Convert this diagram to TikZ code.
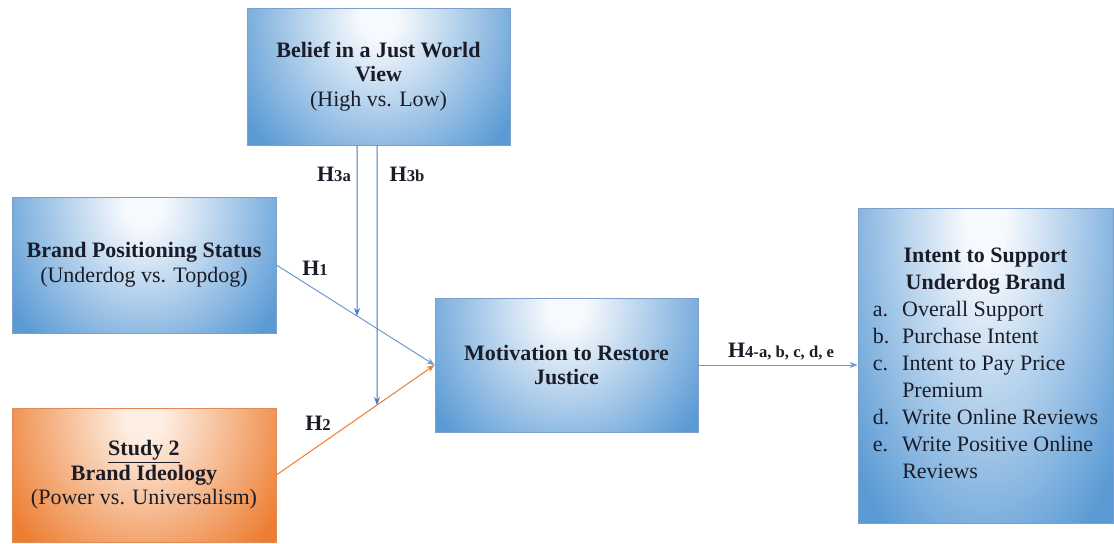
\documentclass[tikz,border=0pt]{standalone}
\usepackage{fontspec}
\setmainfont{LiberationSerif}[Extension=.ttf, UprightFont=*-Regular, BoldFont=*-Bold, ItalicFont=*-Italic, BoldItalicFont=*-BoldItalic]
\usetikzlibrary{arrows.meta,calc}
\definecolor{bblue}{HTML}{5B9BD5}
\definecolor{blight}{HTML}{F6F9FD}
\definecolor{bline}{HTML}{7F9FCB}
\definecolor{oorange}{HTML}{ED7D31}
\definecolor{olight}{HTML}{FDEEE2}
\definecolor{oline}{HTML}{E08A55}
\definecolor{vline}{HTML}{4A78C0}
\definecolor{dline}{HTML}{6E9AD2}
\definecolor{txt}{HTML}{1A1D28}
\pgfdeclareradialshading{bshade}{\pgfpoint{0bp}{0bp}}{color(0bp)=(blight); color(3bp)=(blight); color(25bp)=(bblue); color(50bp)=(bblue)}
\pgfdeclareradialshading{oshade}{\pgfpoint{0bp}{0bp}}{color(0bp)=(olight); color(3bp)=(olight); color(25bp)=(oorange); color(50bp)=(oorange)}
\def\pxu{0.75pt}
\newcommand\hl[1]{\textbf{H}{\fontsize{12.5}{14}\selectfont\bfseries #1}}
\tikzset{
  gbox/.style n args={5}{fill=#2, draw=#3, line width=0.6pt, align=center, inner sep=0pt, text=txt,
    path picture={\shade[shading=#1]
      ($(path picture bounding box.north)+(0,10)$) ellipse [x radius=#4*\pxu, y radius=#5*\pxu];}},
  bluebox/.style 2 args={gbox={bshade}{bblue}{bline}{#1}{#2}},
  orangebox/.style 2 args={gbox={oshade}{oorange}{oline}{#1}{#2}},
  arrV/.style={draw=vline, line width=0.75pt, -{Stealth[length=6pt,width=4.5pt]}},
  arrD/.style={draw=dline, line width=0.75pt, -{Stealth[length=6pt,width=4.5pt]}},
  arrO/.style={draw=oorange, line width=0.75pt, -{Stealth[length=6pt,width=4.5pt]}},
  hlab/.style={inner sep=0pt, text=txt}
}
\begin{document}
\begin{tikzpicture}[x=0.75pt,y=-0.75pt, font=\fontsize{16.5}{18.5}\selectfont]
\useasboundingbox (0,0) rectangle (1114,543);

\node[bluebox={160}{180}, minimum width=263*\pxu, minimum height=137*\pxu] (bel) at (378.5,76.5)
  {\textbf{Belief in a Just World}\\\textbf{View}\\(High vs. Low)};
\node[bluebox={160}{180}, minimum width=264*\pxu, minimum height=136*\pxu] (bps) at (144,265)
  {\textbf{Brand Positioning Status}\\(Underdog vs. Topdog)};
\node[orangebox={160}{180}, minimum width=264*\pxu, minimum height=134*\pxu] (st) at (144,475)
  {\underline{\textbf{Study 2}}\\\textbf{Brand Ideology}\\(Power vs. Universalism)};
\node[bluebox={160}{180}, minimum width=263*\pxu, minimum height=134*\pxu] (mot) at (566.5,365)
  {\textbf{Motivation to Restore}\\\textbf{Justice}};
\node[bluebox={170}{380}, minimum width=255*\pxu, minimum height=315*\pxu] (int) at (985.5,365.5)
  {\fontsize{16.5}{20.25}\selectfont
   \begin{tabular}{@{}p{22pt}@{}l@{}}
   \multicolumn{2}{c}{\textbf{Intent to Support}}\\
   \multicolumn{2}{c}{\textbf{Underdog Brand}}\\
   a. & Overall Support\\
   b. & Purchase Intent\\
   c. & Intent to Pay Price\\
      & Premium\\
   d. & Write Online Reviews\\
   e. & Write Positive Online\\
      & Reviews
   \end{tabular}};

\coordinate (t3a) at ($(bel.south)+(-21.5,0)$);
\coordinate (b3a) at ($(t3a)+(0,300)$);
\coordinate (t3b) at ($(bel.south)+(-1.5,0)$);
\coordinate (b3b) at ($(t3b)+(0,300)$);

\draw[arrD] (bps.east) -- (mot.west);
\draw[arrO] (st.east) -- (mot.west);
\draw[arrV] (t3a) -- (intersection cs:first line={(bps.east)--(mot.west)},second line={(t3a)--(b3a)});
\draw[arrV] (t3b) -- (intersection cs:first line={(st.east)--(mot.west)},second line={(t3b)--(b3b)});
\draw[arrD] (mot.east) -- (int.west |- mot.east);

\node[hlab] (l1) at (315,268) {\hl{1}};
\node[hlab] (l2) at (318,423) {\hl{2}};
\node[hlab] (l3a) at (334,174) {\hl{3a}};
\node[hlab] (l3b) at (407,174) {\hl{3b}};
\node[hlab] (l4) at (781,352) {\hl{4-a, b, c, d, e}};
\end{tikzpicture}
\end{document}
